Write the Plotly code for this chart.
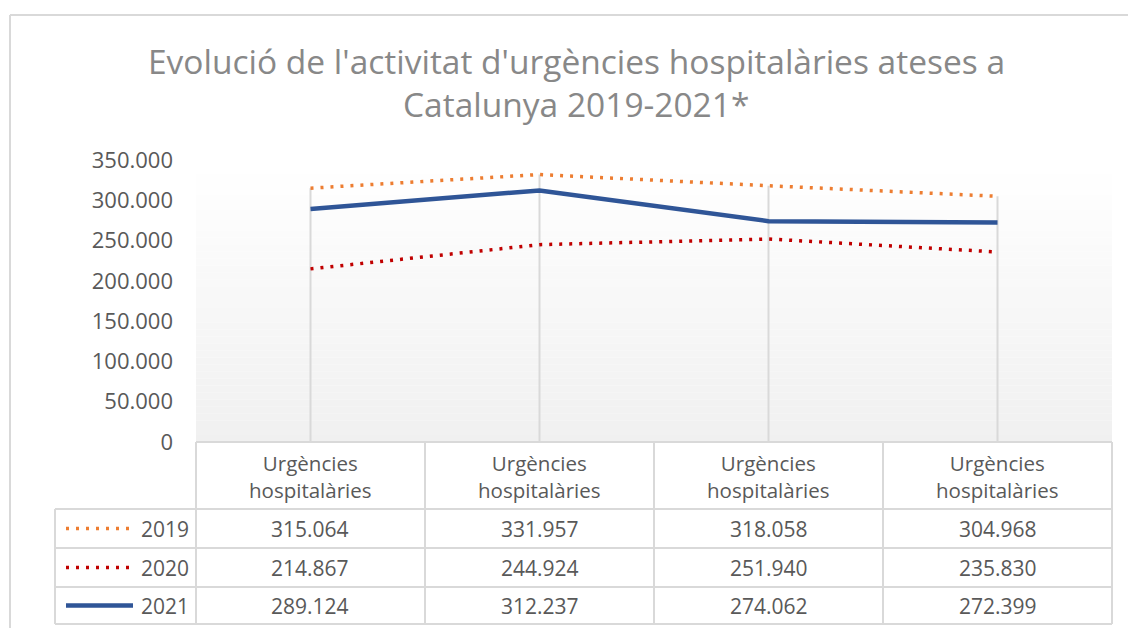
import plotly.graph_objects as go

# ---------------- data ----------------
categories = ["Urgències hospitalàries"] * 4
years = ["2019", "2020", "2021"]
v2019 = [315064, 331957, 318058, 304968]
v2020 = [214867, 244924, 251940, 235830]
v2021 = [289124, 312237, 274062, 272399]
y_ticks = [0, 50000, 100000, 150000, 200000, 250000, 300000, 350000]

series = [v2019, v2020, v2021]
colors = ["#ED7D31", "#C00000", "#2F5597"]
dashes = ["3px,7px", "3px,7px", "solid"]
widths = [3.5, 3.5, 4.5]

W, H = 1128, 628
def px(x):
    return x / W
def py(y):
    return 1 - y / H

# layout geometry (pixels)
PL, PR, PT, PB = 196, 1112, 160, 442
TBL_LEFT = 55
row_y = [442, 509, 548, 587, 624]
GRID = "#D9D9D9"
TXT = "#595959"
FONT = "Open Sans"
TBL_SIZE = 21

xs = list(range(len(categories)))
fig = go.Figure()

# drop lines (from highest value to axis)
for i in xs:
    top = max(s[i] for s in series)
    fig.add_trace(go.Scatter(x=[i, i], y=[0, top], mode="lines",
                             line=dict(color=GRID, width=2),
                             hoverinfo="skip", showlegend=False))

for s, name, c, d, w in zip(series, years, colors, dashes, widths):
    fig.add_trace(go.Scatter(x=xs, y=s, name=name, mode="lines",
                             line=dict(color=c, width=w, dash=d),
                             showlegend=False))

shapes = []
# gradient background of plot area
N = 40
for k in range(N):
    t = k / N
    g = int(round(255 - 15 * t))
    shapes.append(dict(type="rect", xref="paper", yref="paper",
                       x0=px(PL), x1=px(PR),
                       y0=py(PT + (PB - PT) * k / N),
                       y1=py(PT + (PB - PT) * (k + 1) / N),
                       fillcolor=f"rgb({g},{g},{g})", line=dict(width=0),
                       layer="below"))

# outer chart border (cropped at the right and bottom)
shapes.append(dict(type="line", xref="paper", yref="paper",
                   x0=px(10), x1=1, y0=py(15), y1=py(15),
                   line=dict(color=GRID, width=2)))
shapes.append(dict(type="line", xref="paper", yref="paper",
                   x0=px(10), x1=px(10), y0=py(15), y1=0,
                   line=dict(color=GRID, width=2)))

# table lines
col_x = [PL + (PR - PL) * k / len(categories) for k in range(len(categories) + 1)]
for j, yy in enumerate(row_y):
    x0 = PL if j == 0 else TBL_LEFT
    shapes.append(dict(type="line", xref="paper", yref="paper",
                       x0=px(x0), x1=px(PR), y0=py(yy), y1=py(yy),
                       line=dict(color=GRID, width=2)))
for cx in col_x:
    shapes.append(dict(type="line", xref="paper", yref="paper",
                       x0=px(cx), x1=px(cx), y0=py(row_y[0]), y1=py(row_y[-1]),
                       line=dict(color=GRID, width=2)))
shapes.append(dict(type="line", xref="paper", yref="paper",
                   x0=px(TBL_LEFT), x1=px(TBL_LEFT), y0=py(row_y[1]), y1=py(row_y[-1]),
                   line=dict(color=GRID, width=2)))

annotations = []
# header
for k, cat in enumerate(categories):
    cx = (col_x[k] + col_x[k + 1]) / 2
    annotations.append(dict(xref="paper", yref="paper", x=px(cx),
                            y=py((row_y[0] + row_y[1]) / 2 + 1),
                            text=cat.replace(" ", "<br>"), showarrow=False,
                            font=dict(family=FONT, size=TBL_SIZE - 0.5, color=TXT),
                            xanchor="center", yanchor="middle"))
# rows
for r, (s, name, c, d, w) in enumerate(zip(series, years, colors, dashes, widths)):
    yc = (row_y[r + 1] + row_y[r + 2]) / 2
    for k, v in enumerate(s):
        cx = (col_x[k] + col_x[k + 1]) / 2
        annotations.append(dict(xref="paper", yref="paper", x=px(cx), y=py(yc),
                                text=f"{v:,}".replace(",", "."), showarrow=False,
                                font=dict(family=FONT, size=TBL_SIZE, color=TXT),
                                xanchor="center", yanchor="middle"))
    annotations.append(dict(xref="paper", yref="paper", x=px(191), y=py(yc),
                            text=name, showarrow=False,
                            font=dict(family=FONT, size=TBL_SIZE, color=TXT),
                            xanchor="right", yanchor="middle"))
    shapes.append(dict(type="line", xref="paper", yref="paper",
                       x0=px(66), x1=px(133), y0=py(yc), y1=py(yc),
                       line=dict(color=c, width=w, dash=d)))

# title (two lines)
title_lines = ["Evolució de l'activitat d'urgències hospitalàries ateses a",
               "Catalunya 2019-2021*"]
for line, yy in zip(title_lines, [61, 104]):
    annotations.append(dict(xref="paper", yref="paper", x=px(576), y=py(yy),
                            text=line, showarrow=False,
                            font=dict(family=FONT, size=33.5, color="#888888"),
                            xanchor="center", yanchor="middle"))

fig.update_layout(
    width=W, height=H,
    margin=dict(l=0, r=0, t=0, b=0, autoexpand=False),
    paper_bgcolor="white", plot_bgcolor="rgba(0,0,0,0)",
    separators=",.",
    xaxis=dict(domain=[px(PL), px(PR)], range=[-0.5, len(categories) - 0.5],
               showticklabels=False, showgrid=False, zeroline=False,
               showline=False, ticks="", automargin=False),
    yaxis=dict(domain=[py(PB), py(PT)], range=[0, 350000], tickvals=y_ticks,
               tickformat=",d", showgrid=False, zeroline=False, showline=False,
               ticks="", ticklabelstandoff=22, automargin=False,
               tickfont=dict(family=FONT, size=22, color=TXT)),
    shapes=shapes, annotations=annotations,
)

fig.write_html("out.html", config={"displayModeBar": False},
               post_script="document.body.style.margin='0';")
